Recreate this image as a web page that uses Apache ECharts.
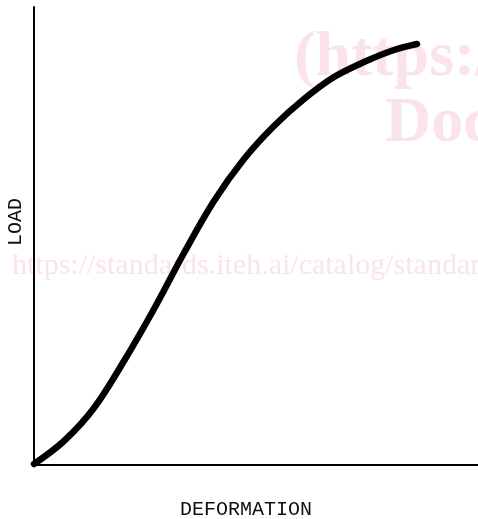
<!DOCTYPE html>
<html>
<head>
<meta charset="utf-8">
<script src="https://cdn.jsdelivr.net/npm/echarts@6/dist/echarts.min.js"></script>
<style>
    html, body { margin: 0; padding: 0; background: #fff; }
    #chart { width: 478px; height: 519px; }
</style>
</head>
<body>
<div id="chart"></div>
<script>
    // curve (arbitrary units)
    var deformation = [0, 30, 60, 90, 120, 150, 180, 210, 240, 270, 300, 330, 360, 383];
    var load = [1, 24, 57, 104, 156, 212, 264, 306, 339, 366, 388, 403, 415, 421];
    var xName = 'DEFORMATION';
    var yName = 'LOAD';

    var points = deformation.map(function (d, i) {
        return [d, load[i]];
    });

    var chart = echarts.init(document.getElementById('chart'));
    var wmColor = '#fae3ea';

    var option = {
        backgroundColor: '#fff',
        animation: false,
        grid: {left: 34, right: 0, top: 7, bottom: 54, outerBoundsMode: 'none'},
        xAxis: {
            type: 'value',
            min: 0,
            max: 444,
            name: xName,
            nameLocation: 'middle',
            nameGap: 35,
            nameTextStyle: {
                fontFamily: 'Liberation Mono',
                fontSize: 20,
                color: '#111',
                padding: [0, 20, 0, 0]
            },
            axisLine: {lineStyle: {color: '#000', width: 2}},
            axisTick: {show: false},
            axisLabel: {show: false},
            splitLine: {show: false}
        },
        yAxis: {
            type: 'value',
            min: 0,
            max: 458,
            name: yName,
            nameLocation: 'middle',
            nameRotate: 90,
            nameGap: 8,
            nameTextStyle: {
                fontFamily: 'Liberation Mono',
                fontSize: 20,
                color: '#111',
                padding: [0, 0, 0, 28]
            },
            axisLine: {lineStyle: {color: '#000', width: 2}},
            axisTick: {show: false},
            axisLabel: {show: false},
            splitLine: {show: false}
        },
        graphic: [
            {
                type: 'text', left: 294, top: 26, z: -1, silent: true,
                style: {text: '(https:/', fill: wmColor, font: 'bold 64px "Liberation Serif"'}
            },
            {
                type: 'text', left: 385, top: 92, z: -1, silent: true,
                style: {text: 'Doc', fill: wmColor, font: 'bold 64px "Liberation Serif"'}
            },
            {
                type: 'text', left: 12, top: 251, z: -1, silent: true,
                style: {text: 'https://standards.iteh.ai/catalog/standard', fill: wmColor, font: '30px "Liberation Serif"'}
            }
        ],
        series: [
            {
                type: 'line',
                data: points,
                smooth: 0.35,
                showSymbol: false,
                z: 5,
                lineStyle: {color: '#000', width: 6.5, cap: 'round'}
            }
        ]
    };

    chart.setOption(option);
</script>
</body>
</html>
